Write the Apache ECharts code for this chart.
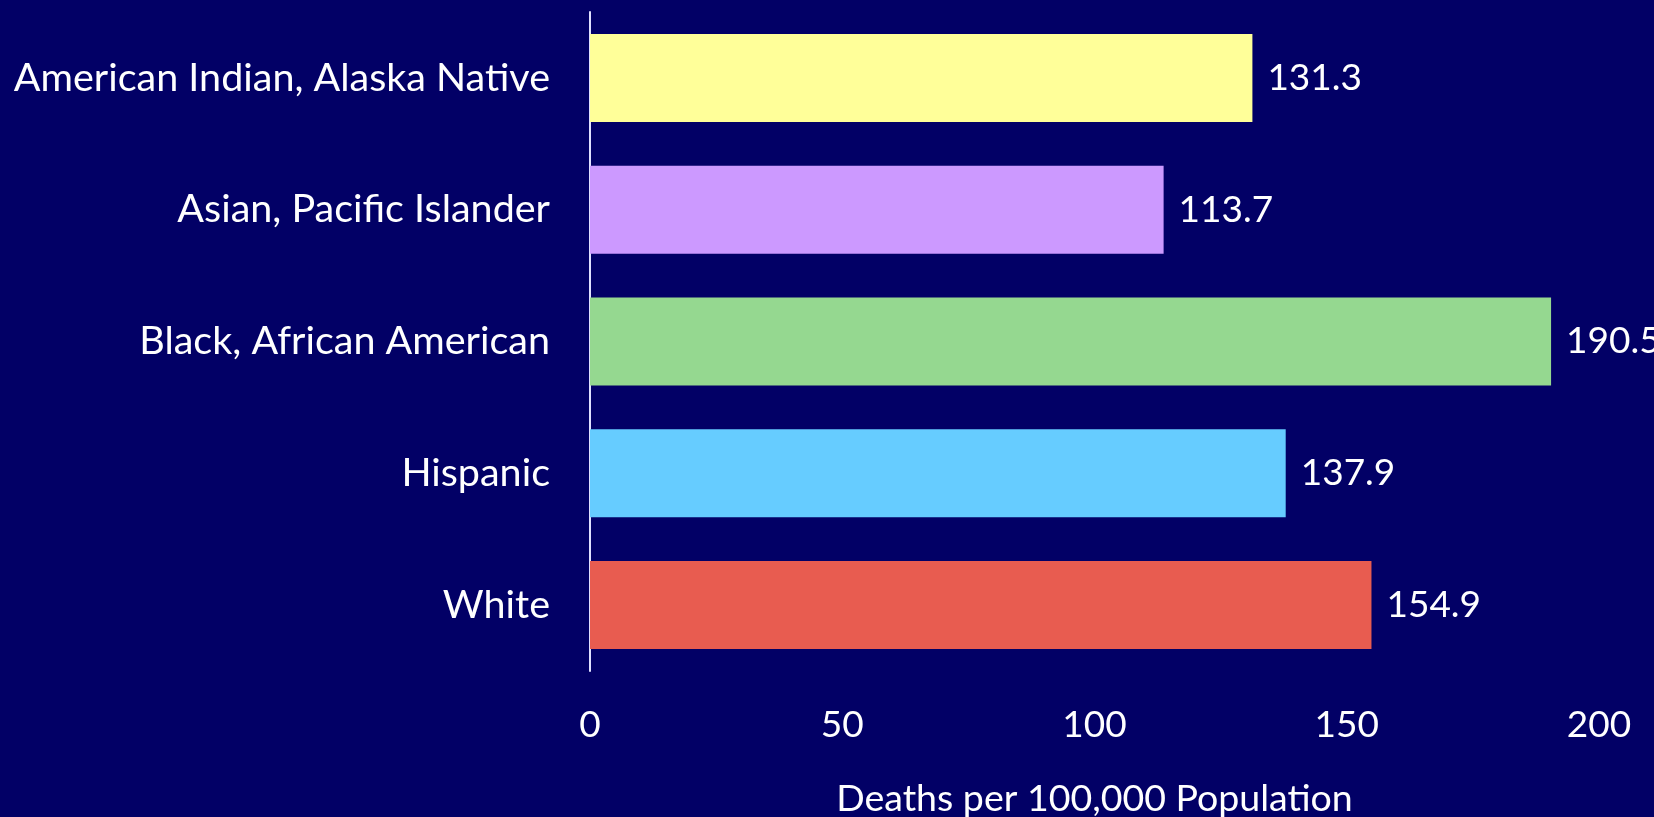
<!DOCTYPE html>
<html><head><meta charset="utf-8">
<script src="https://cdn.jsdelivr.net/npm/echarts@6/dist/echarts.min.js"></script>
<style>html,body{margin:0;padding:0;background:#020066;}#c{width:1654px;height:817px;}</style>
</head><body><div id="c"></div>
<script>
const categories = ["American Indian, Alaska Native", "Asian, Pacific Islander", "Black, African American", "Hispanic", "White"];
const values = [131.3, 113.7, 190.5, 137.9, 154.9];
const colors = ["#FFFF99", "#CC99FF", "#95D890", "#66CCFF", "#E85C50"];
const xTicks = [0, 50, 100, 150, 200];
const axisTitle = "Deaths per 100,000 Population";

const font = "Lato, 'Open Sans', sans-serif";
const chart = echarts.init(document.getElementById('c'));
chart.setOption({
  backgroundColor: '#020066',
  animation: false,
  grid: {left: 590, right: 55, top: 12, bottom: 146, containLabel: false, outerBoundsMode: 'none'},
  xAxis: {
    type: 'value', min: xTicks[0], max: xTicks[xTicks.length-1], interval: 50,
    axisLine: {show: false}, axisTick: {show: false}, splitLine: {show: false},
    axisLabel: {color: '#ffffff', fontSize: 37, fontFamily: font, margin: 36},
    name: axisTitle, nameLocation: 'middle', nameGap: 109,
    nameTextStyle: {color: '#ffffff', fontSize: 37.5, fontFamily: font}
  },
  yAxis: {
    type: 'category', data: categories, inverse: true,
    axisLine: {show: true, lineStyle: {color: '#E0E0FF', width: 2}},
    axisTick: {show: false},
    axisLabel: {color: '#ffffff', fontSize: 39.5, fontFamily: font, margin: 40}
  },
  series: [{
    type: 'bar', barWidth: 88,
    data: values.map((v, i) => ({value: v, itemStyle: {color: colors[i]}})),
    label: {show: true, position: 'right', distance: 15, color: '#ffffff', fontSize: 37, fontFamily: font}
  }]
});
</script></body></html>
